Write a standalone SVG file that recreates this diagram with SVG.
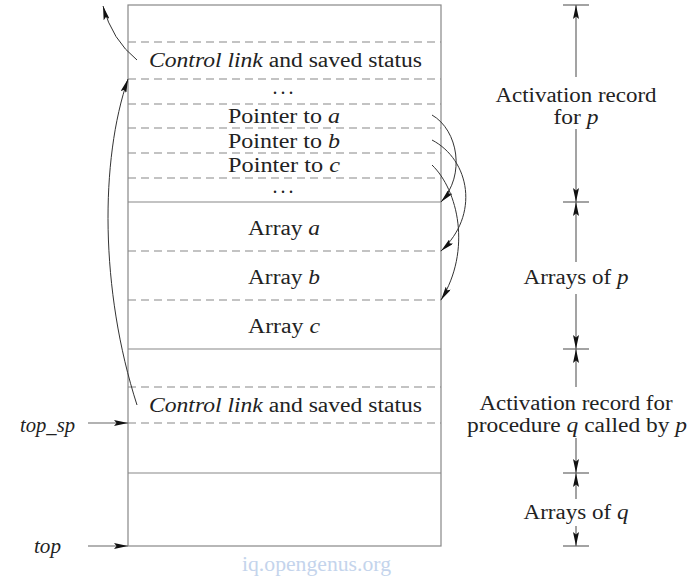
<svg xmlns="http://www.w3.org/2000/svg" width="700" height="578" viewBox="0 0 700 578">
<style>
text{font-family:"Liberation Serif","Times New Roman",serif;font-size:20px;fill:#222;}
.c{text-anchor:middle;}
.i{font-style:italic;}
.box{fill:#fff;stroke:#888;stroke-width:1.2;}
.sol{stroke:#888;stroke-width:1.2;fill:none;}
.dash{stroke:#888;stroke-width:1.2;stroke-dasharray:8 5;fill:none;}
.dim{stroke:#666;stroke-width:1.2;fill:none;}
.tick{stroke:#666;stroke-width:1.2;}
.cur{stroke:#333;stroke-width:1;fill:none;}
.wm{fill:#c4d4ec;}
</style>
<defs>
<marker id="ah" viewBox="0 0 14 6" refX="14" refY="3" markerWidth="14" markerHeight="6" markerUnits="userSpaceOnUse" orient="auto">
<path d="M0,0 L14,3 L0,6 L2.5,3 z" fill="#111"/>
</marker>
</defs>
<rect class="box" x="128" y="5" width="313" height="541"/>
<g id="record-p">
<line class="dash" x1="128" y1="42" x2="441" y2="42"/>
<line class="dash" x1="128" y1="79" x2="441" y2="79"/>
<line class="dash" x1="128" y1="104" x2="441" y2="104"/>
<line class="dash" x1="128" y1="128" x2="441" y2="128"/>
<line class="dash" x1="128" y1="153" x2="441" y2="153"/>
<line class="dash" x1="128" y1="178" x2="441" y2="178"/>
<text class="c" x="285.5" y="67" textLength="273" lengthAdjust="spacingAndGlyphs"><tspan class="i">Control link</tspan> and saved status</text>
<text class="c" x="283" y="94" textLength="21" lengthAdjust="spacing">...</text>
<text class="c" x="284" y="123" textLength="112" lengthAdjust="spacingAndGlyphs">Pointer to <tspan class="i">a</tspan></text>
<text class="c" x="284" y="148" textLength="112" lengthAdjust="spacingAndGlyphs">Pointer to <tspan class="i">b</tspan></text>
<text class="c" x="284" y="172" textLength="112" lengthAdjust="spacingAndGlyphs">Pointer to <tspan class="i">c</tspan></text>
<text class="c" x="283" y="193" textLength="21" lengthAdjust="spacing">...</text>
</g>
<g id="arrays-p">
<line class="sol" x1="128" y1="202" x2="441" y2="202"/>
<line class="dash" x1="128" y1="251" x2="441" y2="251"/>
<line class="dash" x1="128" y1="300" x2="441" y2="300"/>
<text class="c" x="284" y="235" textLength="72" lengthAdjust="spacingAndGlyphs">Array <tspan class="i">a</tspan></text>
<text class="c" x="284" y="284" textLength="72" lengthAdjust="spacingAndGlyphs">Array <tspan class="i">b</tspan></text>
<text class="c" x="284" y="333" textLength="72" lengthAdjust="spacingAndGlyphs">Array <tspan class="i">c</tspan></text>
</g>
<g id="record-q">
<line class="sol" x1="128" y1="349" x2="441" y2="349"/>
<line class="dash" x1="128" y1="387" x2="441" y2="387"/>
<line class="dash" x1="128" y1="423" x2="441" y2="423"/>
<text class="c" x="285.5" y="412" textLength="273" lengthAdjust="spacingAndGlyphs"><tspan class="i">Control link</tspan> and saved status</text>
</g>
<g id="arrays-q">
<line class="sol" x1="128" y1="473" x2="441" y2="473"/>
</g>
<g id="pointers-left">
<text class="i" x="20" y="432" textLength="55" lengthAdjust="spacingAndGlyphs">top_sp</text>
<text class="i" x="34" y="553" textLength="27" lengthAdjust="spacingAndGlyphs">top</text>
</g>
<g id="scale">
<line class="tick" x1="563" y1="5" x2="589" y2="5"/>
<line class="tick" x1="563" y1="202" x2="589" y2="202"/>
<line class="tick" x1="563" y1="349" x2="589" y2="349"/>
<line class="tick" x1="563" y1="473" x2="589" y2="473"/>
<line class="tick" x1="563" y1="546" x2="589" y2="546"/>
<text class="c" x="576" y="102" textLength="161" lengthAdjust="spacingAndGlyphs">Activation record</text>
<text class="c" x="576" y="124" textLength="45" lengthAdjust="spacingAndGlyphs">for <tspan class="i">p</tspan></text>
<text class="c" x="576" y="284" textLength="105" lengthAdjust="spacingAndGlyphs">Arrays of <tspan class="i">p</tspan></text>
<text class="c" x="576" y="410" textLength="193" lengthAdjust="spacingAndGlyphs">Activation record for</text>
<text class="c" x="577" y="432" textLength="220" lengthAdjust="spacingAndGlyphs">procedure <tspan class="i">q</tspan> called by <tspan class="i">p</tspan></text>
<text class="c" x="576" y="519" textLength="105" lengthAdjust="spacingAndGlyphs">Arrays of <tspan class="i">q</tspan></text>
</g>
<g id="connectors">
<path class="cur" d="M137,60 Q112,40 103,6" marker-end="url(#ah)"/>
<path class="cur" d="M137,405 C100,290 100,160 128,79" marker-end="url(#ah)"/>
<path class="cur" d="M432,115 C458,130 466,175 441,202" marker-end="url(#ah)"/>
<path class="cur" d="M432,140 C470,160 480,215 441,251" marker-end="url(#ah)"/>
<path class="cur" d="M432,165 C458,190 472,250 441,300" marker-end="url(#ah)"/>
<line class="dim" x1="88" y1="423" x2="128" y2="423" marker-end="url(#ah)"/>
<line class="dim" x1="88" y1="546" x2="128" y2="546" marker-end="url(#ah)"/>
<line class="dim" x1="576" y1="77" x2="576" y2="5" marker-end="url(#ah)"/>
<line class="dim" x1="576" y1="129" x2="576" y2="202" marker-end="url(#ah)"/>
<line class="dim" x1="576" y1="262" x2="576" y2="202" marker-end="url(#ah)"/>
<line class="dim" x1="576" y1="294" x2="576" y2="349" marker-end="url(#ah)"/>
<line class="dim" x1="576" y1="387" x2="576" y2="349" marker-end="url(#ah)"/>
<line class="dim" x1="576" y1="438" x2="576" y2="473" marker-end="url(#ah)"/>
<line class="dim" x1="576" y1="499" x2="576" y2="473" marker-end="url(#ah)"/>
<line class="dim" x1="576" y1="526" x2="576" y2="546" marker-end="url(#ah)"/>
</g>
<text class="c wm" x="316.5" y="571" textLength="149" lengthAdjust="spacingAndGlyphs">iq.opengenus.org</text>
</svg>
